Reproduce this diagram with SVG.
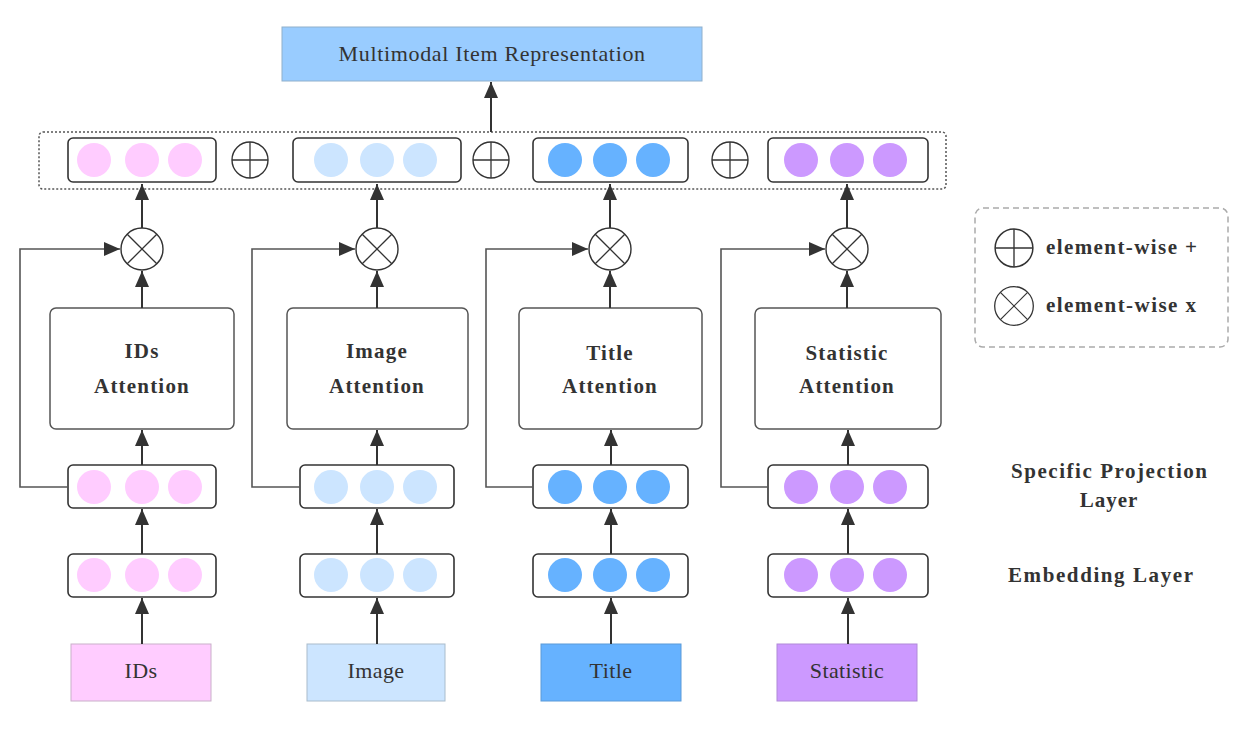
<svg xmlns="http://www.w3.org/2000/svg" width="1254" height="734" viewBox="0 0 1254 734">
<defs>
<style>
.vec{fill:#fff;stroke:#333;stroke-width:1.6}
.att{fill:#fff;stroke:#555;stroke-width:1.5}
.pk{fill:#FFCCFF}.lb{fill:#CCE5FF}.bl{fill:#66B2FF}.pu{fill:#CC99FF}
.op{fill:#fff;stroke:#333;stroke-width:1.4}
.opl{stroke:#333;stroke-width:1.3}
.ln{fill:none;stroke:#333;stroke-width:2}
.fb{fill:none;stroke:#555;stroke-width:1.6}
.bt{font-family:'Liberation Serif','DejaVu Serif',serif;font-weight:bold;font-size:21px;letter-spacing:1.2px;fill:#333;text-anchor:middle}
.rt{font-family:'Liberation Serif','DejaVu Serif',serif;font-size:22px;letter-spacing:0.4px;fill:#333;text-anchor:middle}
.lt{font-family:'Liberation Serif','DejaVu Serif',serif;font-weight:bold;font-size:21px;fill:#333}
</style>
<marker id="ah" markerUnits="userSpaceOnUse" markerWidth="16" markerHeight="14" refX="16" refY="7" orient="auto" viewBox="0 0 16 14">
<path d="M0,0 L16,7 L0,14 Z" fill="#333"/>
</marker>
<g id="plus"><circle r="18" class="op"/><line x1="-18" y1="0" x2="18" y2="0" class="opl"/><line x1="0" y1="-18" x2="0" y2="18" class="opl"/></g>
<g id="times"><circle r="21" class="op"/><line x1="-14.8" y1="-14.8" x2="14.8" y2="14.8" class="opl"/><line x1="-14.8" y1="14.8" x2="14.8" y2="-14.8" class="opl"/></g>
</defs>
<rect width="1254" height="734" fill="#fff"/>

<g id="output">
<rect x="282" y="27" width="420" height="54" fill="#99CCFF" stroke="#8fb0cc" stroke-width="1"/>
<text x="492" y="61" class="rt" textLength="307" lengthAdjust="spacing">Multimodal Item Representation</text>
</g>

<g id="concat">
<rect x="39" y="132" width="907" height="57" rx="4" fill="none" stroke="#555" stroke-width="1.5" stroke-dasharray="2,2"/>
<rect x="68" y="138" width="148" height="44" rx="5" class="vec"/>
<circle cx="94" cy="160" r="17" class="pk"/><circle cx="142" cy="160" r="17" class="pk"/><circle cx="185" cy="160" r="17" class="pk"/>
<rect x="293" y="138" width="168" height="44" rx="5" class="vec"/>
<circle cx="331" cy="160" r="17" class="lb"/><circle cx="377" cy="160" r="17" class="lb"/><circle cx="420" cy="160" r="17" class="lb"/>
<rect x="533" y="138" width="155" height="44" rx="5" class="vec"/>
<circle cx="565" cy="160" r="17" class="bl"/><circle cx="610" cy="160" r="17" class="bl"/><circle cx="653" cy="160" r="17" class="bl"/>
<rect x="768" y="138" width="160" height="44" rx="5" class="vec"/>
<circle cx="801" cy="160" r="17" class="pu"/><circle cx="847" cy="160" r="17" class="pu"/><circle cx="890" cy="160" r="17" class="pu"/>
<use href="#plus" x="250" y="160"/>
<use href="#plus" x="491" y="160"/>
<use href="#plus" x="730" y="160"/>
</g>

<g id="col-ids">
<use href="#times" x="142" y="249"/>
<rect x="50" y="308" width="184" height="121" rx="6" class="att"/>
<text x="142" y="358" class="bt">IDs</text>
<text x="142" y="393" class="bt">Attention</text>
<rect x="68" y="465" width="148" height="43" rx="5" class="vec"/>
<circle cx="94" cy="487" r="17" class="pk"/><circle cx="142" cy="487" r="17" class="pk"/><circle cx="185" cy="487" r="17" class="pk"/>
<rect x="68" y="554" width="148" height="43" rx="5" class="vec"/>
<circle cx="94" cy="575" r="17" class="pk"/><circle cx="142" cy="575" r="17" class="pk"/><circle cx="185" cy="575" r="17" class="pk"/>
<rect x="71" y="644" width="140" height="57" fill="#FFCCFF" stroke="#c9b0c9" stroke-width="1"/>
<text x="141" y="678" class="rt">IDs</text>
</g>

<g id="col-image">
<use href="#times" x="377" y="249"/>
<rect x="287" y="308" width="181" height="121" rx="6" class="att"/>
<text x="377" y="358" class="bt">Image</text>
<text x="377" y="393" class="bt">Attention</text>
<rect x="300" y="465" width="154" height="43" rx="5" class="vec"/>
<circle cx="331" cy="487" r="17" class="lb"/><circle cx="377" cy="487" r="17" class="lb"/><circle cx="420" cy="487" r="17" class="lb"/>
<rect x="300" y="554" width="154" height="43" rx="5" class="vec"/>
<circle cx="331" cy="575" r="17" class="lb"/><circle cx="377" cy="575" r="17" class="lb"/><circle cx="420" cy="575" r="17" class="lb"/>
<rect x="307" y="644" width="138" height="57" fill="#CCE5FF" stroke="#a9bccc" stroke-width="1"/>
<text x="376" y="678" class="rt">Image</text>
</g>

<g id="col-title">
<use href="#times" x="610" y="249"/>
<rect x="519" y="308" width="183" height="121" rx="6" class="att"/>
<text x="610" y="360" class="bt">Title</text>
<text x="610" y="393" class="bt">Attention</text>
<rect x="533" y="465" width="155" height="43" rx="5" class="vec"/>
<circle cx="565" cy="487" r="17" class="bl"/><circle cx="610" cy="487" r="17" class="bl"/><circle cx="653" cy="487" r="17" class="bl"/>
<rect x="533" y="554" width="155" height="43" rx="5" class="vec"/>
<circle cx="565" cy="575" r="17" class="bl"/><circle cx="610" cy="575" r="17" class="bl"/><circle cx="653" cy="575" r="17" class="bl"/>
<rect x="541" y="644" width="140" height="57" fill="#66B2FF" stroke="#5a9ad8" stroke-width="1"/>
<text x="611" y="678" class="rt">Title</text>
</g>

<g id="col-statistic">
<use href="#times" x="847" y="249"/>
<rect x="755" y="308" width="186" height="121" rx="6" class="att"/>
<text x="847" y="360" class="bt">Statistic</text>
<text x="847" y="393" class="bt">Attention</text>
<rect x="768" y="465" width="160" height="43" rx="5" class="vec"/>
<circle cx="801" cy="487" r="17" class="pu"/><circle cx="847" cy="487" r="17" class="pu"/><circle cx="890" cy="487" r="17" class="pu"/>
<rect x="768" y="554" width="160" height="43" rx="5" class="vec"/>
<circle cx="801" cy="575" r="17" class="pu"/><circle cx="847" cy="575" r="17" class="pu"/><circle cx="890" cy="575" r="17" class="pu"/>
<rect x="777" y="644" width="140" height="57" fill="#CC99FF" stroke="#b08ad8" stroke-width="1"/>
<text x="847" y="678" class="rt">Statistic</text>
</g>

<g id="connectors">
<line x1="491" y1="132" x2="491" y2="82" class="ln" marker-end="url(#ah)"/>
<line x1="142" y1="644" x2="142" y2="598" class="ln" marker-end="url(#ah)"/>
<line x1="142" y1="554" x2="142" y2="509" class="ln" marker-end="url(#ah)"/>
<line x1="142" y1="465" x2="142" y2="430" class="ln" marker-end="url(#ah)"/>
<line x1="142" y1="308" x2="142" y2="271" class="ln" marker-end="url(#ah)"/>
<line x1="142" y1="228" x2="142" y2="184" class="ln" marker-end="url(#ah)"/>
<polyline points="68,487 20,487 20,249 120,249" class="fb" marker-end="url(#ah)"/>

<line x1="377" y1="644" x2="377" y2="598" class="ln" marker-end="url(#ah)"/>
<line x1="377" y1="554" x2="377" y2="509" class="ln" marker-end="url(#ah)"/>
<line x1="377" y1="465" x2="377" y2="430" class="ln" marker-end="url(#ah)"/>
<line x1="377" y1="308" x2="377" y2="271" class="ln" marker-end="url(#ah)"/>
<line x1="377" y1="228" x2="377" y2="184" class="ln" marker-end="url(#ah)"/>
<polyline points="300,487 252,487 252,249 355,249" class="fb" marker-end="url(#ah)"/>

<line x1="611" y1="644" x2="611" y2="598" class="ln" marker-end="url(#ah)"/>
<line x1="611" y1="554" x2="611" y2="509" class="ln" marker-end="url(#ah)"/>
<line x1="611" y1="465" x2="611" y2="430" class="ln" marker-end="url(#ah)"/>
<line x1="610" y1="308" x2="610" y2="271" class="ln" marker-end="url(#ah)"/>
<line x1="610" y1="228" x2="610" y2="184" class="ln" marker-end="url(#ah)"/>
<polyline points="533,487 486,487 486,249 588,249" class="fb" marker-end="url(#ah)"/>

<line x1="848" y1="644" x2="848" y2="598" class="ln" marker-end="url(#ah)"/>
<line x1="848" y1="554" x2="848" y2="509" class="ln" marker-end="url(#ah)"/>
<line x1="848" y1="465" x2="848" y2="430" class="ln" marker-end="url(#ah)"/>
<line x1="847" y1="308" x2="847" y2="271" class="ln" marker-end="url(#ah)"/>
<line x1="847" y1="228" x2="847" y2="184" class="ln" marker-end="url(#ah)"/>
<polyline points="768,487 721,487 721,249 825,249" class="fb" marker-end="url(#ah)"/>
</g>

<g id="legend">
<rect x="975" y="208" width="253" height="139" rx="8" fill="none" stroke="#aaa" stroke-width="1.5" stroke-dasharray="6,4"/>
<g transform="translate(1014,248) scale(1.05)"><use href="#plus"/></g>
<text x="1046" y="254" class="lt" textLength="151" lengthAdjust="spacing">element-wise +</text>
<g transform="translate(1014,306) scale(0.92)"><use href="#times"/></g>
<text x="1046" y="312" class="lt" textLength="150" lengthAdjust="spacing">element-wise x</text>
</g>

<g id="layer-labels">
<text x="1011" y="478" class="lt" textLength="196" lengthAdjust="spacing">Specific Projection</text>
<text x="1109" y="507" class="lt" text-anchor="middle" letter-spacing="1">Layer</text>
<text x="1008" y="582" class="lt" textLength="185" lengthAdjust="spacing">Embedding Layer</text>
</g>
</svg>
